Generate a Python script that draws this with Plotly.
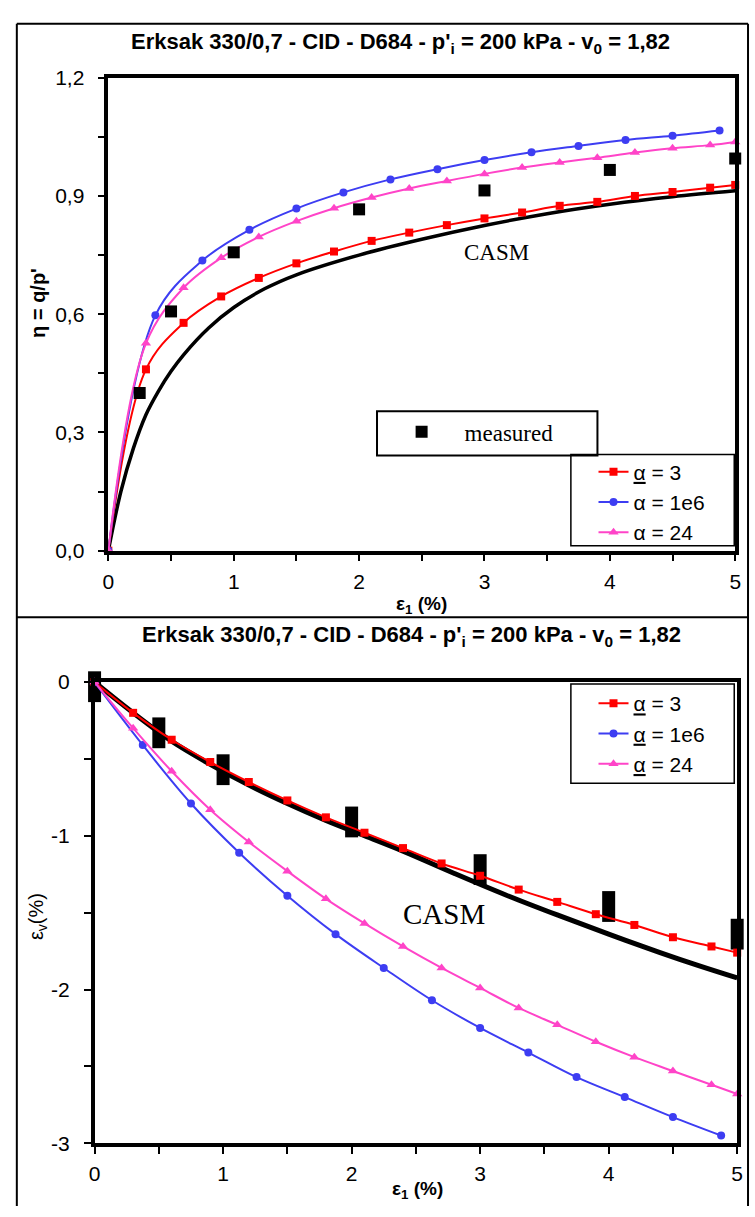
import plotly.graph_objects as go

# ---------------- data ----------------
# top panel: eta = q/p' vs eps1 (%)
top_casm_x = [0, 0.1, 0.2, 0.3, 0.4, 0.5, 0.6, 0.8, 1.0, 1.25, 1.5, 2.0, 2.5, 3.0, 3.5, 4.0, 4.5, 5.0]
top_casm_y = [0, 0.15, 0.26, 0.345, 0.405, 0.455, 0.497, 0.565, 0.617, 0.665, 0.70, 0.75, 0.79, 0.825, 0.855, 0.879, 0.898, 0.913]

a3_x = [0, 0.3, 0.6, 0.9, 1.2, 1.5, 1.8, 2.1, 2.4, 2.7, 3.0, 3.3, 3.6, 3.9, 4.2, 4.5, 4.8, 5.0]
top_a3_y = [0, 0.46, 0.578, 0.645, 0.692, 0.729, 0.759, 0.786, 0.807, 0.826, 0.843, 0.858, 0.875, 0.885, 0.90, 0.91, 0.921, 0.928]

a1e6_x = [0, 0.375, 0.75, 1.125, 1.5, 1.875, 2.25, 2.625, 3.0, 3.375, 3.75, 4.125, 4.5, 4.875]
top_a1e6_y = [0, 0.597, 0.736, 0.814, 0.868, 0.909, 0.942, 0.968, 0.991, 1.011, 1.027, 1.042, 1.053, 1.066]

a24_x = [0, 0.3, 0.6, 0.9, 1.2, 1.5, 1.8, 2.1, 2.4, 2.7, 3.0, 3.3, 3.6, 3.9, 4.2, 4.5, 4.8, 5.0]
top_a24_y = [0, 0.526, 0.667, 0.743, 0.796, 0.836, 0.869, 0.896, 0.919, 0.938, 0.956, 0.972, 0.985, 0.997, 1.01, 1.021, 1.029, 1.037]

top_meas_x = [0.25, 0.5, 1.0, 2.0, 3.0, 4.0, 5.0]
top_meas_y = [0.40, 0.607, 0.757, 0.866, 0.914, 0.966, 0.995]

# bottom panel: eps_v (%) vs eps1 (%)
bot_casm_x = [0, 0.3, 0.6, 0.9, 1.2, 1.5, 1.8, 2.1, 2.4, 2.8, 3.2, 3.6, 4.0, 4.4, 4.7, 5.0]
bot_casm_y = [0, -0.2, -0.385, -0.535, -0.67, -0.79, -0.9, -1.0, -1.1, -1.245, -1.385, -1.515, -1.64, -1.76, -1.845, -1.925]

bot_a3_y = [0, -0.20, -0.375, -0.52, -0.65, -0.77, -0.88, -0.98, -1.08, -1.18, -1.26, -1.35, -1.43, -1.51, -1.58, -1.66, -1.72, -1.76]
bot_a1e6_y = [0, -0.41, -0.79, -1.11, -1.39, -1.64, -1.86, -2.07, -2.25, -2.41, -2.57, -2.70, -2.83, -2.95]
bot_a24_y = [0, -0.30, -0.58, -0.83, -1.04, -1.23, -1.41, -1.57, -1.72, -1.86, -1.99, -2.12, -2.23, -2.34, -2.44, -2.53, -2.62, -2.68]

bot_meas_x = [0, 0.5, 1.0, 2.0, 3.0, 4.0, 5.0]
bot_meas_y = [-0.03, -0.33, -0.57, -0.91, -1.22, -1.46, -1.64]

# tick labels
top_y_vals = [0, 0.3, 0.6, 0.9, 1.2]
top_y_text = ["0,0", "0,3", "0,6", "0,9", "1,2"]
top_y_minor = [0.15, 0.45, 0.75, 1.05]
bot_y_vals = [-3, -2, -1, 0]
bot_y_text = ["-3", "-2", "-1", "0"]
bot_y_minor = [-2.5, -1.5, -0.5]
x_vals = [0, 1, 2, 3, 4, 5]
x_text = ["0", "1", "2", "3", "4", "5"]
x_minor = [0.5, 1.5, 2.5, 3.5, 4.5]

title_text = "<b>Erksak 330/0,7 - CID - D684 - p'<sub>i</sub> = 200 kPa - v<sub>0</sub> = 1,82</b>"

# ---------------- styling ----------------
W, H = 755, 1217
RED, BLUE, PINK = "#FF0000", "#3D3DF2", "#FF44C8"
SANS = "Liberation Sans, Arial, sans-serif"
SERIF = "Liberation Serif, Times New Roman, serif"


def px(x):
    return min(max(x / W, 0), 1)


def py(y):
    return min(max(1 - y / H, 0), 1)


fig = go.Figure()

# top panel traces
fig.add_trace(go.Scatter(x=top_casm_x, y=top_casm_y, mode="lines", line=dict(color="black", width=3.5, shape="spline"),
                         showlegend=False, xaxis="x", yaxis="y"))
fig.add_trace(go.Scatter(x=a3_x, y=top_a3_y, mode="lines+markers", name="<u>α</u> = 3",
                         line=dict(color=RED, width=2, shape="spline"), marker=dict(symbol="square", size=8, color=RED),
                         legend="legend", cliponaxis=False, xaxis="x", yaxis="y"))
fig.add_trace(go.Scatter(x=a1e6_x, y=top_a1e6_y, mode="lines+markers", name="α = 1e6",
                         line=dict(color=BLUE, width=2, shape="spline"), marker=dict(symbol="circle", size=8, color=BLUE),
                         legend="legend", cliponaxis=False, xaxis="x", yaxis="y"))
fig.add_trace(go.Scatter(x=a24_x, y=top_a24_y, mode="lines+markers", name="α = 24",
                         line=dict(color=PINK, width=2, shape="spline"), marker=dict(symbol="triangle-up", size=9, color=PINK),
                         legend="legend", cliponaxis=False, xaxis="x", yaxis="y"))
fig.add_trace(go.Scatter(x=top_meas_x, y=top_meas_y, mode="markers", name="\u00a0\u00a0\u00a0\u00a0measured",
                         marker=dict(symbol="square", size=12, color="black"),
                         legend="legend2", cliponaxis=False, xaxis="x", yaxis="y"))

# bottom panel traces
fig.add_trace(go.Scatter(x=bot_casm_x, y=bot_casm_y, mode="lines", line=dict(color="black", width=5, shape="spline"),
                         showlegend=False, xaxis="x2", yaxis="y2"))
fig.add_trace(go.Scatter(x=bot_meas_x, y=bot_meas_y, mode="markers", showlegend=False,
                         marker=dict(symbol="line-ns", size=22, line=dict(color="black", width=13)),
                         cliponaxis=False, xaxis="x2", yaxis="y2"))
fig.add_trace(go.Scatter(x=a3_x, y=bot_a3_y, mode="lines+markers", name="<u>α</u> = 3",
                         line=dict(color=RED, width=2, shape="spline"), marker=dict(symbol="square", size=8, color=RED),
                         legend="legend3", cliponaxis=False, xaxis="x2", yaxis="y2"))
fig.add_trace(go.Scatter(x=a1e6_x, y=bot_a1e6_y, mode="lines+markers", name="<u>α</u> = 1e6",
                         line=dict(color=BLUE, width=2, shape="spline"), marker=dict(symbol="circle", size=8, color=BLUE),
                         legend="legend3", cliponaxis=False, xaxis="x2", yaxis="y2"))
fig.add_trace(go.Scatter(x=a24_x, y=bot_a24_y, mode="lines+markers", name="<u>α</u> = 24",
                         line=dict(color=PINK, width=2, shape="spline"), marker=dict(symbol="triangle-up", size=9, color=PINK),
                         legend="legend3", cliponaxis=False, xaxis="x2", yaxis="y2"))

axis_common = dict(showline=True, linecolor="black", linewidth=3.5, mirror=True, showgrid=False, zeroline=False,
                   ticks="outside", ticklen=7, tickwidth=2, tickcolor="black",
                   tickfont=dict(family=SANS, size=21, color="black"))


def minor(vals):
    return dict(tickmode="array", tickvals=vals, ticks="outside", ticklen=7, tickwidth=2, tickcolor="black",
                showgrid=False)


def hline(y, x0, x1, w=2):
    return dict(type="line", xref="paper", yref="paper", x0=px(x0), x1=px(x1), y0=py(y), y1=py(y),
                line=dict(color="black", width=w))


def vline(x, y0, y1, w=2):
    return dict(type="line", xref="paper", yref="paper", x0=px(x), x1=px(x), y0=py(y0), y1=py(y1),
                line=dict(color="black", width=w))


fig.update_layout(
    width=W, height=H, margin=dict(l=0, r=0, t=0, b=0),
    paper_bgcolor="white", plot_bgcolor="white",
    xaxis=dict(domain=[px(104), px(741)], range=[0, 5], anchor="y", tickmode="array", tickvals=x_vals,
               ticktext=x_text, ticklabelstandoff=2, minor=minor(x_minor), **axis_common),
    yaxis=dict(domain=[py(549), py(67)], range=[0, 1.2], anchor="x", tickmode="array", tickvals=top_y_vals,
               ticktext=top_y_text, ticklabelstandoff=9, minor=minor(top_y_minor), **axis_common),
    xaxis2=dict(domain=[px(90), px(743)], range=[0, 5], anchor="y2", tickmode="array", tickvals=x_vals,
                ticktext=x_text, ticklabelstandoff=2, minor=minor(x_minor), **axis_common),
    yaxis2=dict(domain=[py(1153), py(683)], range=[-3, 0], anchor="x2", tickmode="array", tickvals=bot_y_vals,
                ticktext=bot_y_text, ticklabelstandoff=10, minor=minor(bot_y_minor), **axis_common),
    legend=dict(x=px(597), y=py(448), xanchor="left", yanchor="top", bgcolor="rgba(0,0,0,0)", borderwidth=0,
                font=dict(family=SANS, size=21, color="black"), tracegroupgap=0, itemwidth=30),
    legend2=dict(x=px(402), y=py(406), xanchor="left", yanchor="top", bgcolor="rgba(0,0,0,0)", borderwidth=0,
                 font=dict(family=SERIF, size=23, color="black")),
    legend3=dict(x=px(597), y=py(684), xanchor="left", yanchor="top", bgcolor="rgba(0,0,0,0)", borderwidth=0,
                 font=dict(family=SANS, size=21, color="black"), tracegroupgap=0, itemwidth=30),
    shapes=[
        # outer panel borders
        hline(12, 11, 754), hline(617, 11, 754),
        vline(11, 12, 1217), vline(754, 12, 1217),
        # legend boxes
        dict(type="rect", xref="paper", yref="paper", x0=px(377), x1=px(601), y0=py(452), y1=py(407),
             line=dict(color="black", width=2)),
        dict(type="rect", xref="paper", yref="paper", x0=px(574), x1=px(740), y0=py(544), y1=py(451),
             fillcolor="white", line=dict(color="black", width=1.5), layer="below"),
        dict(type="rect", xref="paper", yref="paper", x0=px(574), x1=px(740), y0=py(786), y1=py(685),
             fillcolor="white", line=dict(color="black", width=1.5), layer="below"),
    ],
    annotations=[
        dict(text=title_text, xref="paper", yref="paper", x=px(401), y=py(32), showarrow=False,
             font=dict(family=SANS, size=22, color="black"), xanchor="center", yanchor="middle"),
        dict(text=title_text, xref="paper", yref="paper", x=px(412), y=py(636), showarrow=False,
             font=dict(family=SANS, size=22, color="black"), xanchor="center", yanchor="middle"),
        dict(text="<b>ε<sub>1</sub> (%)</b>", xref="paper", yref="paper", x=px(422), y=py(604), showarrow=False,
             font=dict(family=SANS, size=19, color="black"), xanchor="center", yanchor="middle"),
        dict(text="<b>ε<sub>1</sub> (%)</b>", xref="paper", yref="paper", x=px(418), y=py(1201), showarrow=False,
             font=dict(family=SANS, size=19, color="black"), xanchor="center", yanchor="middle"),
        dict(text="<b>η = q/p'</b>", xref="paper", yref="paper", x=px(33), y=py(296), showarrow=False, textangle=-90,
             font=dict(family=SANS, size=20, color="black"), xanchor="center", yanchor="middle"),
        dict(text="ε<sub>v</sub>(%)", xref="paper", yref="paper", x=px(32), y=py(922), showarrow=False, textangle=-90,
             font=dict(family=SANS, size=20, color="black"), xanchor="center", yanchor="middle"),
        dict(text="CASM", xref="paper", yref="paper", x=px(498), y=py(245), showarrow=False,
             font=dict(family=SERIF, size=23, color="black"), xanchor="center", yanchor="middle"),
        dict(text="CASM", xref="paper", yref="paper", x=px(445), y=py(919), showarrow=False,
             font=dict(family=SERIF, size=29, color="black"), xanchor="center", yanchor="middle"),
    ],
)

fig.write_html("out.html")
